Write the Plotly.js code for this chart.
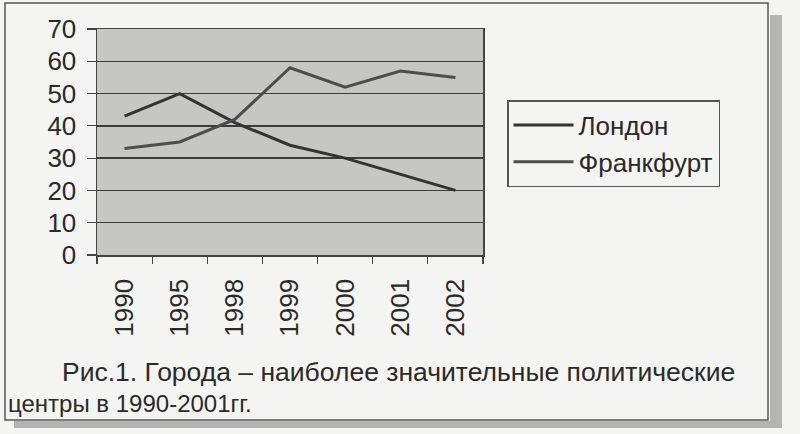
<!DOCTYPE html>
<html>
<head>
<meta charset="utf-8">
<script src="https://cdn.plot.ly/plotly-3.0.1.min.js"></script>
<style>
html,body{margin:0;padding:0;background:#f4f4f2;}
#chart{width:800px;height:434px;}
</style>
</head>
<body>
<div id="chart"></div>
<script>
// Data
const years = ["1990", "1995", "1998", "1999", "2000", "2001", "2002"];
const london = [43, 50, 41, 34, 30, 25, 20];
const frankfurt = [33, 35, 42, 58, 52, 57, 55];
const seriesNames = ["Лондон", "Франкфурт"];
const yTicks = [0, 10, 20, 30, 40, 50, 60, 70];
const captionLine1 = "Рис.1. Города – наиболее значительные политические";
const captionLine2 = "центры в 1990-2001гг.";

// Layout geometry (pixels)
const W = 800, H = 434;
const L = 97, R = 483, T = 29, B = 255;
const pw = R - L, ph = B - T;
const px = x => (x - L) / pw;
const py = y => (B - y) / ph;

const font = "Liberation Sans, Arial, sans-serif";

const traces = [
  {x: years, y: london, name: seriesNames[0], type: "scatter", mode: "lines",
   legendgroup: "a", line: {color: "#333333", width: 3}},
  {x: years, y: frankfurt, name: seriesNames[1], type: "scatter", mode: "lines",
   legendgroup: "b", line: {color: "#4d4d4d", width: 3}}
];

const layout = {
  width: W, height: H,
  margin: {l: L, r: W - R, t: T, b: H - B, pad: 0},
  paper_bgcolor: "#f4f4f2",
  plot_bgcolor: "#c6c6c4",
  font: {family: font, color: "#2a2a2a", size: 24},
  showlegend: true,
  legend: {
    x: px(507), y: py(100), xanchor: "left", yanchor: "top",
    bgcolor: "rgba(0,0,0,0)", bordercolor: "#555", borderwidth: 1.5,
    font: {family: font, size: 26, color: "#2a2a2a"},
    traceorder: "grouped", tracegroupgap: 0, itemwidth: 60
  },
  xaxis: {
    type: "category", range: [-0.5, 6.5], tickangle: -90, ticks: "outside", ticklen: 7, tickwidth: 1.2,
    tickcolor: "#444", tickson: "boundaries", showgrid: false,
    showline: true, linecolor: "#444", linewidth: 1.5, mirror: true,
    tickfont: {family: font, size: 26, color: "#2a2a2a"}, ticklabelstandoff: 12, fixedrange: true
  },
  yaxis: {
    range: [0, 70], tickvals: yTicks, ticks: "outside", ticklen: 9, tickwidth: 1.2,
    tickcolor: "#444", showgrid: true, gridcolor: "#3c3c3c", gridwidth: 1.5,
    zeroline: false, showline: true, linecolor: "#444", linewidth: 1.5, mirror: true,
    tickfont: {family: font, size: 26, color: "#2a2a2a"}, ticklabelstandoff: 5, fixedrange: true
  },
  shapes: [
    // page shadow
    {type: "rect", xref: "paper", yref: "paper", x0: px(770), x1: px(782), y0: py(428), y1: py(15),
     fillcolor: "#b4b4b2", line: {width: 0}, layer: "below"},
    {type: "rect", xref: "paper", yref: "paper", x0: px(14), x1: px(782), y0: py(428), y1: py(421),
     fillcolor: "#b4b4b2", line: {width: 0}, layer: "below"},
    // frame
    {type: "rect", xref: "paper", yref: "paper", x0: px(5), x1: px(768), y0: py(420), y1: py(3),
     fillcolor: "rgba(0,0,0,0)", line: {color: "#555", width: 1.5}, layer: "below"}
  ],
  annotations: [
    {text: captionLine1, xref: "paper", yref: "paper", x: px(60), y: py(372),
     xanchor: "left", yanchor: "middle", showarrow: false,
     font: {family: font, size: 26.5, color: "#2a2a2a"}},
    {text: captionLine2, xref: "paper", yref: "paper", x: px(6), y: py(403),
     xanchor: "left", yanchor: "middle", showarrow: false,
     font: {family: font, size: 24, color: "#2a2a2a"}}
  ]
};

Plotly.newPlot("chart", traces, layout, {displayModeBar: false, staticPlot: true});
</script>
</body>
</html>
